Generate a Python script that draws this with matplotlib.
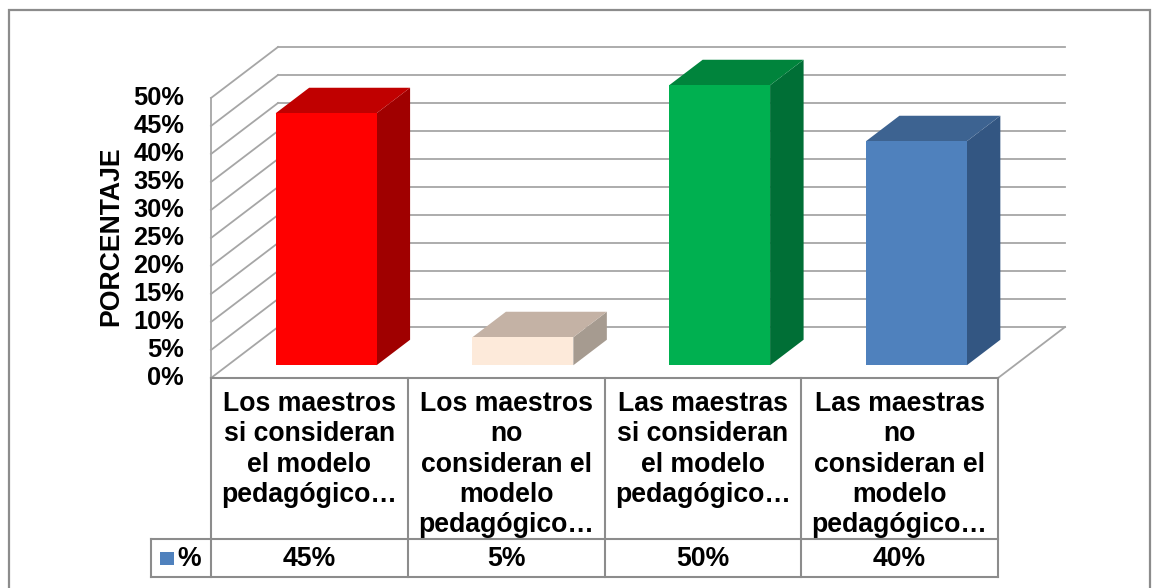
import matplotlib
matplotlib.use("Agg")
import matplotlib.pyplot as plt
from matplotlib.patches import Polygon, Rectangle

plt.rcParams['font.family'] = ['Liberation Sans', 'DejaVu Sans']
plt.rcParams['font.weight'] = 'bold'

# datos
categorias = ["Los maestros\nsi consideran\nel modelo\npedagógico…",
              "Los maestros\nno\nconsideran el\nmodelo\npedagógico…",
              "Las maestras\nsi consideran\nel modelo\npedagógico…",
              "Las maestras\nno\nconsideran el\nmodelo\npedagógico…"]
valores = [45, 5, 50, 40]
etiquetas = ["45%", "5%", "50%", "40%"]
ticks = list(range(0, 55, 5))
serie = "%"

# colores (frente, arriba, lado)
c_frente = ["#FF0000", "#FDEADA", "#00B050", "#4F81BD"]
c_arriba = ["#C00000", "#C4B2A5", "#00843C", "#3D6391"]
c_lado = ["#A00000", "#A69B90", "#006F36", "#335682"]

# escala: 1 categoria = 196.75 px, 1% = 5.6 px
PXC = 196.75
PXV = 5.6
DX = 67 / PXC   # profundidad en x
DY = 51 / PXV   # profundidad en y
ANCHO = 0.513


def X(px):
    return (px - 211) / PXC


def Y(py):
    return (378 - py) / PXV


def proj(x, z, v):
    return (x + z * DX, v + z * DY)


fig = plt.figure(figsize=(11.52, 5.88), dpi=100)
ax = fig.add_axes([0, 0, 1, 1])
ax.set_xlim(X(0), X(1152))
ax.set_ylim(Y(588), Y(0))
ax.axis('off')

gris = "#A6A6A6"
# marco exterior
ax.add_patch(Rectangle((X(9), Y(600)), X(1150) - X(9), Y(10) - Y(600),
                       fill=False, ec="#8C8C8C", lw=1.6, zorder=0))

# paredes y lineas de cuadricula
for t in ticks:
    a = proj(0, 1, t)
    b = proj(4, 1, t)
    ax.plot([a[0], b[0]], [a[1], b[1]], color=gris, lw=1.3, zorder=1)
    c = proj(0, 0, t)
    ax.plot([c[0], a[0]], [c[1], a[1]], color=gris, lw=1.3, zorder=1)
    ax.text(X(184), t, f"{t}%", ha='right', va='center', fontsize=18.3,
            fontweight='bold')
ax.plot([0, 0], [0, ticks[-1]], color=gris, lw=1.3, zorder=1)
p1 = proj(4, 0, 0)
p2 = proj(4, 1, 0)
ax.plot([p1[0], p2[0]], [p1[1], p2[1]], color=gris, lw=1.3, zorder=1)

ax.text(X(111), Y(236), "PORCENTAJE", rotation=90, ha='center', va='center',
        fontsize=19.2, fontweight='bold')

# barras 3D
z0, z1 = 0.25, 0.75
for i, v in enumerate(valores):
    xl = i + 0.5 - ANCHO / 2
    xr = i + 0.5 + ANCHO / 2
    frente = [proj(xl, z0, 0), proj(xr, z0, 0), proj(xr, z0, v), proj(xl, z0, v)]
    arriba = [proj(xl, z0, v), proj(xr, z0, v), proj(xr, z1, v), proj(xl, z1, v)]
    lado = [proj(xr, z0, 0), proj(xr, z1, 0), proj(xr, z1, v), proj(xr, z0, v)]
    ax.add_patch(Polygon(lado, closed=True, fc=c_lado[i], ec='none', zorder=3))
    ax.add_patch(Polygon(arriba, closed=True, fc=c_arriba[i], ec='none', zorder=3))
    ax.add_patch(Polygon(frente, closed=True, fc=c_frente[i], ec='none', zorder=4))

# tabla de datos
gt = "#8C8C8C"
y_top, y_mid, y_bot = 0, Y(539), Y(577)
for k in range(len(valores) + 1):
    ax.plot([k, k], [y_top, y_bot], color=gt, lw=1.5, zorder=5)
ax.plot([0, len(valores)], [y_top, y_top], color=gt, lw=1.5, zorder=5)
ax.plot([X(151), len(valores)], [y_mid, y_mid], color=gt, lw=1.5, zorder=5)
ax.plot([X(151), len(valores)], [y_bot, y_bot], color=gt, lw=1.5, zorder=5)
ax.plot([X(151), X(151)], [y_mid, y_bot], color=gt, lw=1.5, zorder=5)

paso = 30.4
for i, cat in enumerate(categorias):
    for j, linea in enumerate(cat.split("\n")):
        ax.text(i + 0.5, Y(410.7 + j * paso), linea, ha='center', va='baseline',
                fontsize=19.2, fontweight='bold')
    ax.text(i + 0.5, Y(566.5), etiquetas[i], ha='center', va='baseline',
            fontsize=19.2, fontweight='bold')

ax.add_patch(Rectangle((X(160), Y(565)), X(174) - X(160), Y(552) - Y(565),
                       fc="#4F81BD", ec='none', zorder=5))
ax.text(X(177), Y(566.5), serie, ha='left', va='baseline', fontsize=19.2,
        fontweight='bold')

fig.savefig("out.png", dpi=100)
